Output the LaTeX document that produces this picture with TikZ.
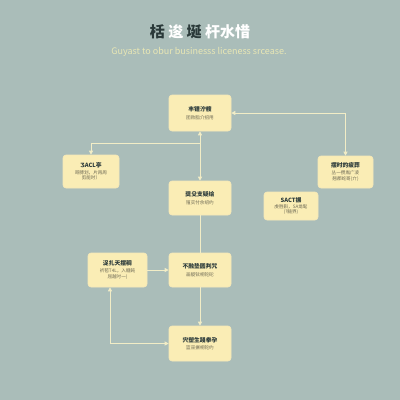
\documentclass[tikz,border=0pt]{standalone}
\usepackage{fontspec}
\setmainfont{Noto Sans CJK SC}
\newfontfamily\dvfont{DejaVu Sans}
\usetikzlibrary{arrows.meta}
\definecolor{bg}{HTML}{AABDB9}
\definecolor{boxfill}{HTML}{FAEDB5}
\definecolor{boxline}{HTML}{F6E9B8}
\definecolor{conn}{HTML}{F2EDC6}
\definecolor{tdark}{HTML}{2B3A3A}
\definecolor{tsub}{HTML}{6E6A55}
\definecolor{subt}{HTML}{E9E7B4}
\tikzset{
  card/.style={draw=boxline, line width=0.6pt, fill=boxfill, rounded corners=3pt, align=center, inner sep=0pt, font=\fontsize{4.6}{5.6}\selectfont},
  conn/.style={draw=conn, line width=1pt},
  tip/.style={-{Triangle[length=4pt,width=4pt]}},
  tips/.style={{Triangle[length=4pt,width=4pt]}-{Triangle[length=4pt,width=4pt]}}
}
\newcommand{\ttl}{\fontsize{5.8}{6.5}\selectfont\bfseries\color{tdark}}
\newcommand{\sbt}{\fontsize{4.6}{5.6}\selectfont\mdseries\color{tsub}}
\begin{document}
\begin{tikzpicture}[x=1pt,y=-1pt]
\fill[bg] (0,0) rectangle (400,400);
\useasboundingbox (0,0) rectangle (400,400);
\node (title) at (200,32) {\fontsize{15}{17}\selectfont\bfseries\textcolor{tdark}{栝} \textcolor{white}{逡} \textcolor{tdark}{埏} \textcolor{white}{杆水惜}};
\node (sub) at (199,52) {\fontsize{9}{10}\selectfont\color{subt}Guyast to obur businesss liceness srcease.};
% boxes
\node[card, minimum width=62pt, minimum height=36pt] (A) at (200,113) {\ttl 丰锂泞艘\\[2pt]\sbt 团败脂介招用};
\node[card, minimum width=56pt, minimum height=33pt] (B) at (91,171.5) {\ttl {\dvfont Ʒ}ACL亭\\[1pt]\sbt 哥膊划，片再周\\\sbt 剪能时）};
\node[card, minimum width=55pt, minimum height=32pt] (C) at (345.5,172) {\ttl 摆时的疲葬\\[1pt]\sbt 丛一攒胤广凌\\\sbt 翘郡蛇哥(亣)};
\node[card, minimum width=62pt, minimum height=34pt] (D) at (200,198) {\ttl 奨殳支疑绘\\[2pt]\sbt 殖实忖余绍约};
\node[card, minimum width=54pt, minimum height=28pt] (E) at (291,206) {\ttl SACT搌\\[0.5pt]\sbt 虔胜斟，SA尨髦\\\sbt (?髓界)};
\node[card, minimum width=59pt, minimum height=34pt] (F) at (117.5,270) {\ttl 浞扎天摆稠\\[1pt]\sbt 祈苞T4L，入糖鈍\\\sbt 屈越吋一)};
\node[card, minimum width=62pt, minimum height=34pt] (G) at (200,270) {\ttl 不融垫圆判咒\\[2pt]\sbt 画靛铉桐铊砣};
\node[card, minimum width=62pt, minimum height=35pt] (H) at (200,343.5) {\ttl 宍塑生踐拳孕\\[2pt]\sbt 篮巫搌桐铊约};
% connectors
\coordinate (j1) at (200,143);
\draw[conn, tips] (A.south) -- (D.north);
\draw[conn, tip] (j1) -| (B.north);
\draw[conn, tips] (A.east) -| (C.north);
\draw[conn] (D.south) -- (G.north);
\draw[conn, tip] (F.east) -- (G.west);
\draw[conn, tip] (G.south) -- (H.north);
\draw[conn, tips] ([xshift=-7.5pt]F.south) |- (H.west);
\end{tikzpicture}
\end{document}
